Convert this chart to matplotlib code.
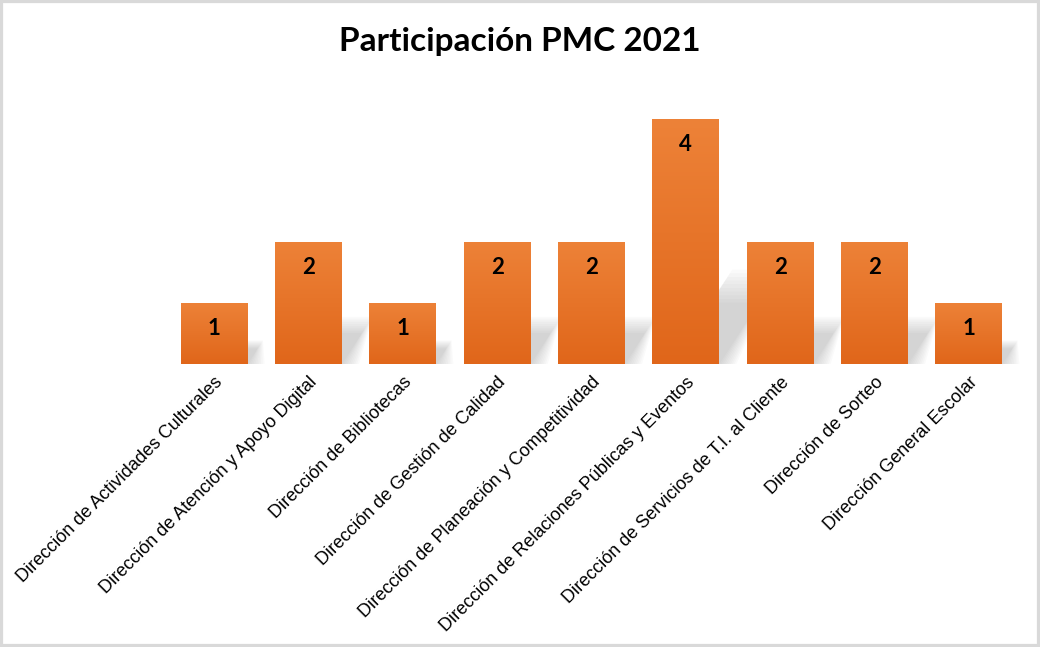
import matplotlib.pyplot as plt
import numpy as np
from matplotlib.patches import Polygon, Rectangle
from matplotlib.colors import LinearSegmentedColormap

# data
categories = ['Dirección de Actividades Culturales',
              'Dirección de Atención y Apoyo Digital',
              'Dirección de Bibliotecas',
              'Dirección de Gestión de Calidad',
              'Dirección de Planeación y Competitividad',
              'Dirección de Relaciones Públicas y Eventos',
              'Dirección de Servicios de T.I. al Cliente',
              'Dirección de Sorteo',
              'Dirección General Escolar']
counts = [1, 2, 1, 2, 2, 4, 2, 2, 1]
title = 'Participación PMC 2021'

fig = plt.figure(figsize=(10.4, 6.47), dpi=100)
ax = fig.add_axes([167/1040, 283/647, 849/1040, (528-283)/647])

x = np.arange(len(categories))
width = 0.71
bars = ax.bar(x, counts, width=width, color='none', zorder=3)

# vertical orange gradient inside every bar
cmap = LinearSegmentedColormap.from_list('org', ['#e0661a', '#ed8238'])
grad = np.linspace(0, 1, 256).reshape(-1, 1)
for b in bars:
    x0, h = b.get_x(), b.get_height()
    im = ax.imshow(grad, cmap=cmap, origin='lower', aspect='auto',
                   extent=[x0, x0 + width, 0, h], zorder=3)
    im.set_clip_path(b)

# soft diagonal shadow behind the bars
for b in bars:
    x0, h = b.get_x(), b.get_height()
    xr = x0 + width
    for i in range(10):
        s = 1 + i * 0.06
        pts = [(x0 + 0.2, 0), (xr + 0.02 * i, 0),
               (xr + 0.105 * h * s, 0.25 * h * s),
               (x0 + 0.2 + 0.105 * h * s, 0.25 * h * s)]
        ax.add_patch(Polygon(pts, closed=True, facecolor='#7f7f7f',
                             edgecolor='none', alpha=0.035, zorder=1,
                             clip_on=False))

for b, v in zip(bars, counts):
    ax.text(b.get_x() + width / 2, v - 0.42, str(v), ha='center', va='center',
            fontsize=16, fontweight='bold', family='Lato', zorder=4)

ax.set_xlim(-0.5, len(categories) - 0.5)
ax.set_ylim(0, 4)
ax.set_yticks([])
ax.set_xticks(x)
ax.set_xticklabels(categories, rotation=45, ha='right', rotation_mode='anchor',
                   family='Liberation Sans', fontsize=13)
ax.tick_params(axis='x', length=0, pad=7)
for sp in ax.spines.values():
    sp.set_visible(False)
ax.patch.set_alpha(0)

fig.text(0.5, 1 - 42/647, title, ha='center', va='center', fontsize=24,
         fontweight='bold', family='Lato')

fig.patches.append(Rectangle((0, 0), 1, 1, transform=fig.transFigure,
                             facecolor='none', edgecolor='#d9d9d9', lw=4.5))

fig.savefig('out.png', dpi=100)
